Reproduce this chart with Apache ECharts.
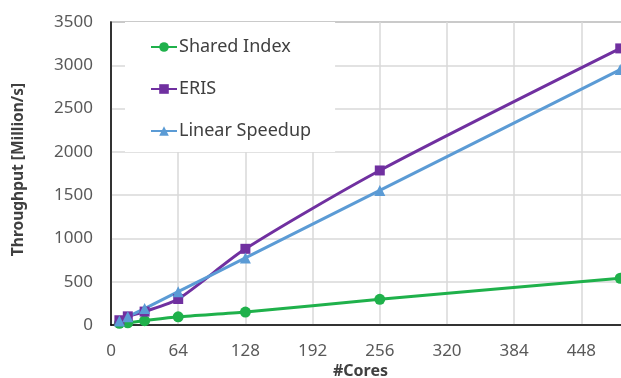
<!DOCTYPE html>
<html><head><meta charset="utf-8">
<script src="https://cdn.jsdelivr.net/npm/echarts@6/dist/echarts.min.js"></script>
<style>html,body{margin:0;padding:0;background:#fff}#c{width:621px;height:378px}</style>
</head><body><div id="c"></div>
<script>
const cores = [8, 16, 32, 64, 128, 256, 485];
const sharedIndex = [20, 25, 50, 95, 150, 297, 540];
const eris = [55, 100, 155, 300, 880, 1785, 3195];
const linearSpeedup = [45, 95, 190, 385, 775, 1555, 2950];
const xTicks = [0, 64, 128, 192, 256, 320, 384, 448];
const yTicks = [0, 500, 1000, 1500, 2000, 2500, 3000, 3500];

const pair = (xs, ys) => xs.map((x, i) => [x, ys[i]]);
const font = '"Noto Sans", sans-serif';
const chart = echarts.init(document.getElementById('c'), null, {renderer: 'canvas'});
const mk = (name, data, color, symbol, size) => ({
  name, type: 'line', data: pair(cores, data), smooth: 0.25,
  symbol, symbolSize: size, showSymbol: true, clip: false,
  lineStyle: {color, width: 3}, itemStyle: {color, borderWidth: 0}
});
chart.setOption({
  animation: false,
  backgroundColor: '#fff',
  grid: {left: 111, top: 22, width: 537.6, height: 303, show: true,
         outerBoundsMode: 'none', containLabel: false,
         borderColor: '#808080', borderWidth: 1.5, backgroundColor: 'transparent'},
  legend: {
    orient: 'vertical', left: 125, top: 22, backgroundColor: '#fff',
    padding: [15, 24, 11, 25], itemGap: 22, itemWidth: 26, itemHeight: 12,
    textStyle: {fontFamily: font, fontSize: 18, color: '#404040', lineHeight: 20, padding: [0,0,0,-3]},
    data: ['Shared Index', 'ERIS', 'Linear Speedup']
  },
  xAxis: {
    type: 'value', min: xTicks[0], max: 512, interval: 64,
    axisLine: {show: true, lineStyle: {color: '#000', width: 1.5}},
    axisTick: {show: false},
    axisLabel: {fontFamily: font, fontSize: 17, color: '#595959', margin: 18,
      formatter: v => xTicks.includes(v) ? String(v) : ''},
    splitLine: {show: true, lineStyle: {color: '#d9d9d9', width: 1.5}}
  },
  yAxis: {
    type: 'value', min: yTicks[0], max: yTicks[yTicks.length - 1], interval: 500,
    axisLine: {show: true, lineStyle: {color: '#000', width: 1.5}},
    axisTick: {show: false},
    axisLabel: {fontFamily: font, fontSize: 17, color: '#595959', margin: 18,
      formatter: v => String(v)},
    splitLine: {show: true, lineStyle: {color: '#d9d9d9', width: 1.5}},
    name: 'Throughput [Million/s]', nameLocation: 'middle', nameGap: 84,
    nameTextStyle: {fontFamily: font, fontSize: 15.5, fontWeight: 'bold', color: '#404040',
      padding: [0, 0, 0, 8]}
  },
  graphic: [{type: 'text', left: 333, top: 363,
    style: {text: '#Cores', font: 'bold 16px "Noto Sans", sans-serif', fill: '#404040'}}],
  series: [
    mk('Shared Index', sharedIndex, '#1fb14b', 'circle', 11),
    mk('ERIS', eris, '#7030a0', 'rect', 10),
    mk('Linear Speedup', linearSpeedup, '#5b9bd5', 'triangle', 11)
  ]
});
</script></body></html>
